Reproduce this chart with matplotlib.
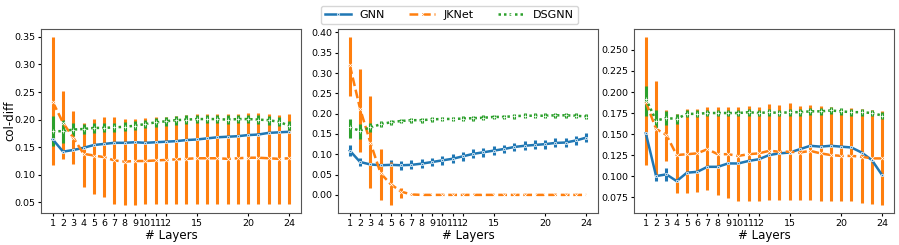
import numpy as np
import matplotlib
matplotlib.use("Agg")
import matplotlib.pyplot as plt

layers = list(range(1, 25))
xticks = [1, 2, 3, 4, 5, 6, 7, 8, 9, 10, 11, 12, 15, 20, 24]

# ---- Panel 1 ----
p1_gnn = [0.164, 0.142, 0.145, 0.149, 0.154, 0.156, 0.158, 0.158, 0.159, 0.158, 0.159, 0.160,
          0.161, 0.163, 0.164, 0.166, 0.168, 0.169, 0.170, 0.172, 0.173, 0.176, 0.177, 0.178]
p1_gnn_lo = [0.158, 0.139, 0.143, 0.147, 0.152, 0.154, 0.156, 0.156, 0.157, 0.156, 0.157, 0.158,
             0.159, 0.161, 0.162, 0.164, 0.166, 0.167, 0.168, 0.170, 0.171, 0.174, 0.175, 0.176]
p1_gnn_hi = [0.170, 0.145, 0.147, 0.151, 0.156, 0.158, 0.160, 0.160, 0.161, 0.160, 0.161, 0.162,
             0.163, 0.165, 0.166, 0.168, 0.170, 0.171, 0.172, 0.174, 0.175, 0.178, 0.179, 0.180]
p1_jk = [0.232, 0.194, 0.167, 0.138, 0.135, 0.132, 0.126, 0.124, 0.125, 0.125, 0.126, 0.127,
         0.128, 0.129, 0.130, 0.130, 0.130, 0.129, 0.130, 0.131, 0.131, 0.130, 0.129, 0.130]
p1_jk_lo = [0.118, 0.128, 0.119, 0.078, 0.065, 0.059, 0.048, 0.046, 0.046, 0.047, 0.047, 0.047,
            0.048, 0.048, 0.048, 0.048, 0.048, 0.048, 0.048, 0.048, 0.048, 0.048, 0.047, 0.048]
p1_jk_hi = [0.349, 0.252, 0.215, 0.194, 0.201, 0.204, 0.204, 0.202, 0.202, 0.203, 0.204, 0.205,
            0.207, 0.209, 0.211, 0.211, 0.211, 0.210, 0.211, 0.212, 0.212, 0.211, 0.209, 0.211]
p1_ds = [0.179, 0.179, 0.182, 0.183, 0.185, 0.185, 0.186, 0.187, 0.189, 0.192, 0.195, 0.197,
         0.199, 0.200, 0.201, 0.201, 0.201, 0.200, 0.201, 0.201, 0.200, 0.199, 0.196, 0.189]
p1_ds_lo = [0.153, 0.158, 0.170, 0.174, 0.176, 0.177, 0.178, 0.179, 0.181, 0.184, 0.187, 0.189,
            0.191, 0.192, 0.193, 0.193, 0.193, 0.192, 0.193, 0.193, 0.192, 0.191, 0.188, 0.181]
p1_ds_hi = [0.206, 0.200, 0.194, 0.192, 0.194, 0.193, 0.194, 0.195, 0.197, 0.200, 0.203, 0.205,
            0.207, 0.208, 0.209, 0.209, 0.209, 0.208, 0.209, 0.209, 0.208, 0.207, 0.204, 0.197]

# ---- Panel 2 ----
p2_gnn = [0.109, 0.081, 0.075, 0.073, 0.074, 0.073, 0.074, 0.077, 0.081, 0.085, 0.089, 0.095,
          0.101, 0.105, 0.109, 0.113, 0.118, 0.121, 0.123, 0.125, 0.128, 0.129, 0.134, 0.141]
p2_gnn_lo = [0.096, 0.070, 0.064, 0.062, 0.063, 0.062, 0.063, 0.066, 0.070, 0.074, 0.078, 0.084,
             0.090, 0.094, 0.098, 0.102, 0.107, 0.110, 0.112, 0.114, 0.117, 0.118, 0.123, 0.130]
p2_gnn_hi = [0.123, 0.092, 0.086, 0.084, 0.085, 0.084, 0.085, 0.088, 0.092, 0.096, 0.100, 0.106,
             0.112, 0.116, 0.120, 0.124, 0.129, 0.132, 0.134, 0.136, 0.139, 0.140, 0.145, 0.152]
p2_jk = [0.319, 0.212, 0.129, 0.053, 0.026, 0.008, 0.001, 0.000, 0.000, 0.000, 0.000, 0.000,
         0.000, 0.000, 0.000, 0.000, 0.000, 0.000, 0.000, 0.000, 0.000, 0.000, 0.000, 0.000]
p2_jk_lo = [0.244, 0.105, 0.016, -0.012, -0.024, -0.008, 0.000, 0.000, 0.000, 0.000, 0.000, 0.000,
            0.000, 0.000, 0.000, 0.000, 0.000, 0.000, 0.000, 0.000, 0.000, 0.000, 0.000, 0.000]
p2_jk_hi = [0.388, 0.311, 0.244, 0.113, 0.081, 0.016, 0.002, 0.000, 0.000, 0.000, 0.000, 0.000,
            0.000, 0.000, 0.000, 0.000, 0.000, 0.000, 0.000, 0.000, 0.000, 0.000, 0.000, 0.000]
p2_ds = [0.166, 0.158, 0.166, 0.174, 0.179, 0.182, 0.184, 0.184, 0.186, 0.187, 0.187, 0.188,
         0.189, 0.190, 0.192, 0.192, 0.194, 0.195, 0.195, 0.195, 0.196, 0.196, 0.195, 0.193]
p2_ds_lo = [0.141, 0.137, 0.154, 0.167, 0.173, 0.176, 0.178, 0.178, 0.180, 0.181, 0.181, 0.182,
            0.183, 0.184, 0.186, 0.186, 0.188, 0.189, 0.189, 0.189, 0.190, 0.190, 0.189, 0.187]
p2_ds_hi = [0.186, 0.174, 0.178, 0.181, 0.185, 0.188, 0.190, 0.190, 0.192, 0.193, 0.193, 0.194,
            0.195, 0.196, 0.198, 0.198, 0.200, 0.201, 0.201, 0.201, 0.202, 0.202, 0.201, 0.199]

# ---- Panel 3 ----
p3_gnn = [0.151, 0.100, 0.102, 0.094, 0.104, 0.105, 0.111, 0.111, 0.115, 0.115, 0.118, 0.120,
          0.125, 0.127, 0.128, 0.132, 0.136, 0.135, 0.136, 0.135, 0.134, 0.128, 0.119, 0.101]
p3_gnn_lo = [0.149, 0.094, 0.094, 0.085, 0.102, 0.103, 0.109, 0.109, 0.113, 0.113, 0.116, 0.118,
             0.123, 0.125, 0.126, 0.130, 0.134, 0.133, 0.134, 0.133, 0.132, 0.126, 0.117, 0.099]
p3_gnn_hi = [0.153, 0.104, 0.110, 0.103, 0.106, 0.107, 0.113, 0.113, 0.117, 0.117, 0.120, 0.122,
             0.127, 0.129, 0.130, 0.134, 0.138, 0.137, 0.138, 0.137, 0.136, 0.130, 0.121, 0.103]
p3_jk = [0.188, 0.156, 0.149, 0.125, 0.126, 0.127, 0.132, 0.126, 0.126, 0.124, 0.126, 0.127,
         0.130, 0.129, 0.129, 0.128, 0.130, 0.127, 0.125, 0.124, 0.124, 0.123, 0.121, 0.121]
p3_jk_lo = [0.113, 0.101, 0.118, 0.080, 0.080, 0.081, 0.083, 0.077, 0.074, 0.070, 0.070, 0.070,
            0.072, 0.072, 0.071, 0.071, 0.072, 0.070, 0.070, 0.070, 0.070, 0.068, 0.067, 0.066]
p3_jk_hi = [0.265, 0.213, 0.178, 0.174, 0.180, 0.180, 0.182, 0.182, 0.182, 0.182, 0.183, 0.182,
            0.186, 0.185, 0.187, 0.183, 0.185, 0.183, 0.182, 0.179, 0.181, 0.180, 0.179, 0.177]
p3_ds = [0.192, 0.166, 0.169, 0.168, 0.174, 0.174, 0.175, 0.175, 0.175, 0.175, 0.176, 0.175,
         0.176, 0.175, 0.176, 0.176, 0.177, 0.177, 0.178, 0.177, 0.176, 0.176, 0.175, 0.172]
p3_ds_lo = [0.172, 0.156, 0.161, 0.162, 0.170, 0.170, 0.171, 0.171, 0.171, 0.171, 0.172, 0.171,
            0.172, 0.171, 0.172, 0.172, 0.173, 0.173, 0.174, 0.173, 0.172, 0.172, 0.171, 0.168]
p3_ds_hi = [0.207, 0.178, 0.177, 0.174, 0.178, 0.178, 0.179, 0.179, 0.179, 0.179, 0.180, 0.179,
            0.180, 0.179, 0.180, 0.180, 0.181, 0.181, 0.182, 0.181, 0.180, 0.180, 0.179, 0.176]

panels = [
    [(p1_gnn, p1_gnn_lo, p1_gnn_hi), (p1_jk, p1_jk_lo, p1_jk_hi), (p1_ds, p1_ds_lo, p1_ds_hi)],
    [(p2_gnn, p2_gnn_lo, p2_gnn_hi), (p2_jk, p2_jk_lo, p2_jk_hi), (p2_ds, p2_ds_lo, p2_ds_hi)],
    [(p3_gnn, p3_gnn_lo, p3_gnn_hi), (p3_jk, p3_jk_lo, p3_jk_hi), (p3_ds, p3_ds_lo, p3_ds_hi)],
]
names = ["GNN", "JKNet", "DSGNN"]
colors = ["#1f77b4", "#ff7f0e", "#2ca02c"]
styles = ["-", (0, (3.5, 1.5)), (0, (1, 1.2))]
markers = [".", "x", "+"]

fig = plt.figure(figsize=(8.99, 2.45), dpi=100)
lefts = [41, 338, 634]
W, H = 899, 245
axes = []
for i, left in enumerate(lefts):
    ax = fig.add_axes([left / W, 32 / H, 260 / W, 184 / H])
    axes.append(ax)
    x = np.array(layers)
    handles = []
    for j, (m, lo, hi) in enumerate(panels[i]):
        m = np.array(m); lo = np.array(lo); hi = np.array(hi)
        ax.errorbar(x, m, yerr=[m - lo, hi - m], fmt="none", ecolor=colors[j],
                    elinewidth=2.2, capsize=0, zorder=2)
        h, = ax.plot(x, m, color=colors[j], linestyle=styles[j], linewidth=1.8,
                     marker=markers[j], markersize=3.5, markeredgecolor="white",
                     markeredgewidth=0.5, zorder=3, label=names[j])
        handles.append(h)
    ax.set_xticks(xticks)
    ax.set_xticklabels([str(t) for t in xticks])
    ax.tick_params(labelsize=6.8, length=2.5, pad=1.5)
    ax.set_xlabel("# Layers", fontsize=8.5, labelpad=1)
    for s in ax.spines.values():
        s.set_color("#555555")

axes[0].set_ylabel("col-diff", fontsize=8.5)
axes[0].yaxis.set_label_coords(-0.095, 0.5)
axes[1].set_yticks([0.0, 0.05, 0.10, 0.15, 0.20, 0.25, 0.30, 0.35, 0.40])
axes[2].set_yticks([0.075, 0.1, 0.125, 0.15, 0.175, 0.2, 0.225, 0.25])

fig.legend(handles=handles, labels=names, loc="upper center", ncol=3,
           bbox_to_anchor=(0.5, 1.0), fontsize=8, frameon=True,
           handlelength=2.3, columnspacing=2.2, borderpad=0.4)

fig.savefig("out.png", dpi=100)
